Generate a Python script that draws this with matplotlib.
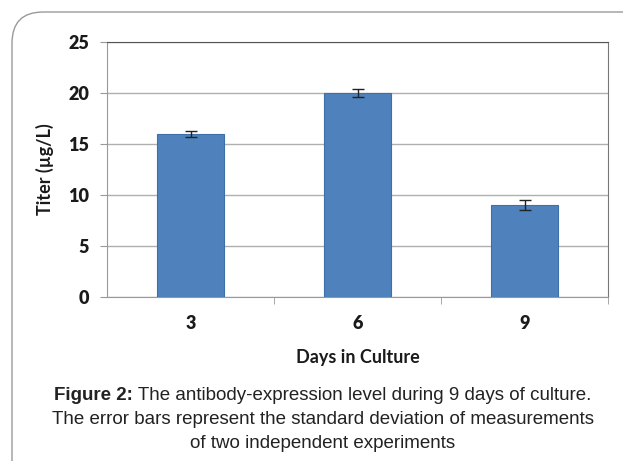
import matplotlib
matplotlib.use("Agg")
import matplotlib.pyplot as plt
from matplotlib.patches import FancyBboxPatch

plt.rcParams["font.family"] = ["Lato", "DejaVu Sans"]
plt.rcParams["font.weight"] = "bold"
plt.rcParams["font.size"] = 13

days = ["3", "6", "9"]
titer = [16.0, 20.0, 9.0]
sd = [0.3, 0.4, 0.5]
yticks = [0, 5, 10, 15, 20, 25]

W, H = 623, 461
fig = plt.figure(figsize=(W / 100, H / 100), dpi=100)
fig.patch.set_facecolor("white")

# rounded frame
frame = FancyBboxPatch((12 / W, -0.2), 1.2, (H - 12) / H + 0.2,
                       boxstyle="round,pad=0,rounding_size=0.05",
                       transform=fig.transFigure, fill=False,
                       edgecolor="#9a9a9a", linewidth=1.0, mutation_aspect=W / H)
fig.add_artist(frame)

ax = fig.add_axes([107 / W, 1 - 297 / H, (608 - 107) / W, (297 - 42) / H])
x = list(range(len(days)))
ax.bar(x, titer, width=0.4, color="#4F81BD", edgecolor="#3F6FA8", linewidth=0.8, zorder=3)
ax.errorbar(x, titer, yerr=sd, fmt="none", ecolor="#222222", elinewidth=1.0,
            capsize=4, capthick=1.0, zorder=4)

ax.set_xlim(-0.5, 2.5)
ax.set_ylim(0, 25)
ax.set_yticks(yticks)
ax.set_xticks(x)
ax.set_xticklabels(days, fontweight="heavy")
ax.set_yticklabels([str(v) for v in yticks], fontweight="heavy")
ax.set_xticks([0.5, 1.5, 2.5], minor=True)
ax.tick_params(axis="x", which="major", length=0, pad=13, labelsize=13, labelcolor="#1a1a1a")
ax.tick_params(axis="x", which="minor", length=5, color="#999999", direction="out")
ax.tick_params(axis="y", length=5, color="#999999", pad=8, labelsize=13, labelcolor="#1a1a1a")
ax.grid(axis="y", color="#b0b0b0", linewidth=1.0, zorder=0)

ax.spines["left"].set_color("#999999")
ax.spines["bottom"].set_color("#999999")
ax.spines["top"].set_color("#555555")
ax.spines["right"].set_color("#777777")

ax.set_ylabel("Titer (µg/L)", fontweight="bold", fontsize=13,
              color="#1a1a1a", labelpad=10)
ax.set_xlabel("Days in Culture", fontweight="bold", fontsize=13,
              color="#1a1a1a", labelpad=12)

fs = 13.5
cx = 322.5 / W
cap_kw = dict(va="baseline", fontsize=fs, color="#222222",
              fontfamily=["Liberation Sans", "DejaVu Sans"])

# first caption line: bold prefix + regular text, centered together
renderer = fig.canvas.get_renderer()
t_bold = fig.text(0, 1 - 400 / H, "Figure 2:", fontweight="bold", ha="left", **cap_kw)
t_reg = fig.text(0, 1 - 400 / H, " The antibody-expression level during 9 days of culture.",
                 ha="left", fontweight="normal", **cap_kw)
wb = t_bold.get_window_extent(renderer).width / W
wr = t_reg.get_window_extent(renderer).width / W
start = cx - (wb + wr) / 2
t_bold.set_x(start)
t_reg.set_x(start + wb)

fig.text(cx, 1 - 424 / H, "The error bars represent the standard deviation of measurements",
         ha="center", fontweight="normal", **cap_kw)
fig.text(cx, 1 - 448 / H, "of two independent experiments", ha="center",
         fontweight="normal", **cap_kw)

fig.savefig("out.png", dpi=100)
